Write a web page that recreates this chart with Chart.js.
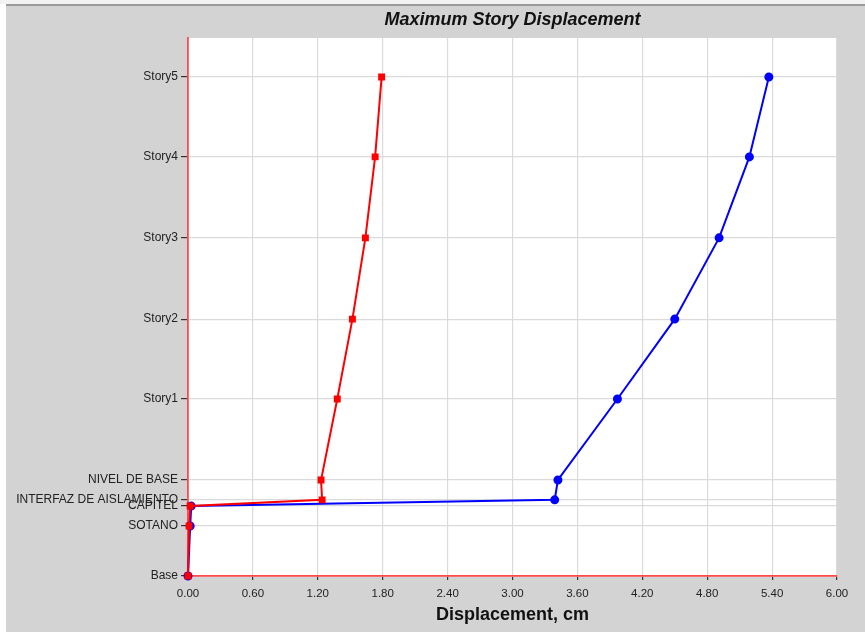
<!DOCTYPE html>
<html>
<head>
<meta charset="utf-8">
<script src="https://cdn.jsdelivr.net/npm/chart.js@4"></script>
<style>
  html, body { margin: 0; padding: 0; background: #ffffff; }
  #wrap { width: 865px; height: 632px; position: relative; }
</style>
</head>
<body>
<div id="wrap"><canvas id="chart" width="865" height="632"></canvas></div>
<script>
const levels = ['Base', 'SOTANO', 'CAPITEL', 'INTERFAZ DE AISLAMIENTO', 'NIVEL DE BASE',
  'Story1', 'Story2', 'Story3', 'Story4', 'Story5'];
const elevations = [0, 1.86, 2.60, 2.83, 3.57, 6.58, 9.55, 12.57, 15.58, 18.55];
const redDisp = [0.00, 0.01, 0.02, 1.24, 1.23, 1.38, 1.52, 1.64, 1.73, 1.79];
const blueDisp = [0.00, 0.02, 0.03, 3.39, 3.42, 3.97, 4.50, 4.91, 5.19, 5.37];
const xTicks = [0, 0.6, 1.2, 1.8, 2.4, 3.0, 3.6, 4.2, 4.8, 5.4, 6.0];

const FONT = "'Liberation Sans', Arial, sans-serif";

const frame = {
  id: 'frame',
  beforeDraw(chart) {
    const ctx = chart.ctx;
    const a = chart.chartArea;
    ctx.save();
    ctx.fillStyle = '#f2f2f2';
    ctx.fillRect(0, 0, chart.width, 4);
    ctx.fillStyle = '#9a9a9a';
    ctx.fillRect(6, 4, chart.width - 6, 2);
    ctx.fillStyle = '#d3d3d3';
    ctx.fillRect(6, 6, chart.width - 6, chart.height - 6);
    ctx.fillStyle = '#ffffff';
    ctx.fillRect(a.left, a.top, a.right - a.left, a.bottom - a.top);
    ctx.restore();
  },
  afterDraw(chart) {
    const ctx = chart.ctx;
    const a = chart.chartArea;
    ctx.save();
    ctx.fillStyle = '#111111';
    ctx.font = "italic bold 18px " + FONT;
    ctx.textAlign = 'center';
    ctx.textBaseline = 'middle';
    ctx.fillText('Maximum Story Displacement', (a.left + a.right) / 2, 20);
    ctx.restore();
  }
};

new Chart(document.getElementById('chart'), {
  type: 'line',
  data: {
    datasets: [
      {
        label: 'Red',
        data: redDisp.map((v, i) => ({ x: v, y: elevations[i] })),
        borderColor: '#ff0000',
        backgroundColor: '#ff0000',
        borderWidth: 2,
        pointStyle: 'rect',
        pointRadius: 3.5,
        tension: 0,
        clip: false
      },
      {
        label: 'Blue',
        data: blueDisp.map((v, i) => ({ x: v, y: elevations[i] })),
        borderColor: '#0000ff',
        backgroundColor: '#0000ff',
        borderWidth: 2,
        pointStyle: 'circle',
        pointRadius: 3.5,
        tension: 0,
        clip: false
      }
    ]
  },
  options: {
    responsive: false,
    animation: false,
    layout: { padding: { top: 38, right: 28, left: 0, bottom: 6 } },
    plugins: {
      legend: { display: false },
      tooltip: { enabled: false },
      title: { display: false }
    },
    scales: {
      x: {
        type: 'linear',
        min: 0,
        max: 6,
        afterBuildTicks: s => { s.ticks = xTicks.map(v => ({ value: v })); },
        afterFit: s => { s.height = 50; },
        grid: { color: '#dadada', lineWidth: 1.2, tickLength: 4, tickColor: '#333333' },
        border: { color: '#ff4a4a', width: 1.8 },
        ticks: {
          color: '#222222',
          font: { family: FONT, size: 11.5 },
          padding: 7,
          maxRotation: 0,
          autoSkip: false,
          callback: v => Number(v).toFixed(2)
        },
        title: {
          display: true,
          text: 'Displacement, cm',
          color: '#111111',
          font: { family: FONT, size: 18, weight: 'bold' },
          padding: { top: 0, bottom: 0 }
        }
      },
      y: {
        type: 'linear',
        min: 0,
        max: 20,
        afterBuildTicks: s => { s.ticks = elevations.map(v => ({ value: v })); },
        afterFit: s => { s.width = 188; },
        grid: { color: '#dadada', lineWidth: 1.2, tickLength: 7, tickColor: '#333333' },
        border: { color: '#ff4a4a', width: 1.8 },
        ticks: {
          color: '#222222',
          font: { family: FONT, size: 12 },
          padding: 3,
          autoSkip: false,
          callback: (v) => {
            const i = elevations.indexOf(v);
            return i >= 0 ? levels[i] : '';
          }
        }
      }
    }
  },
  plugins: [frame]
});
</script>
</body>
</html>
